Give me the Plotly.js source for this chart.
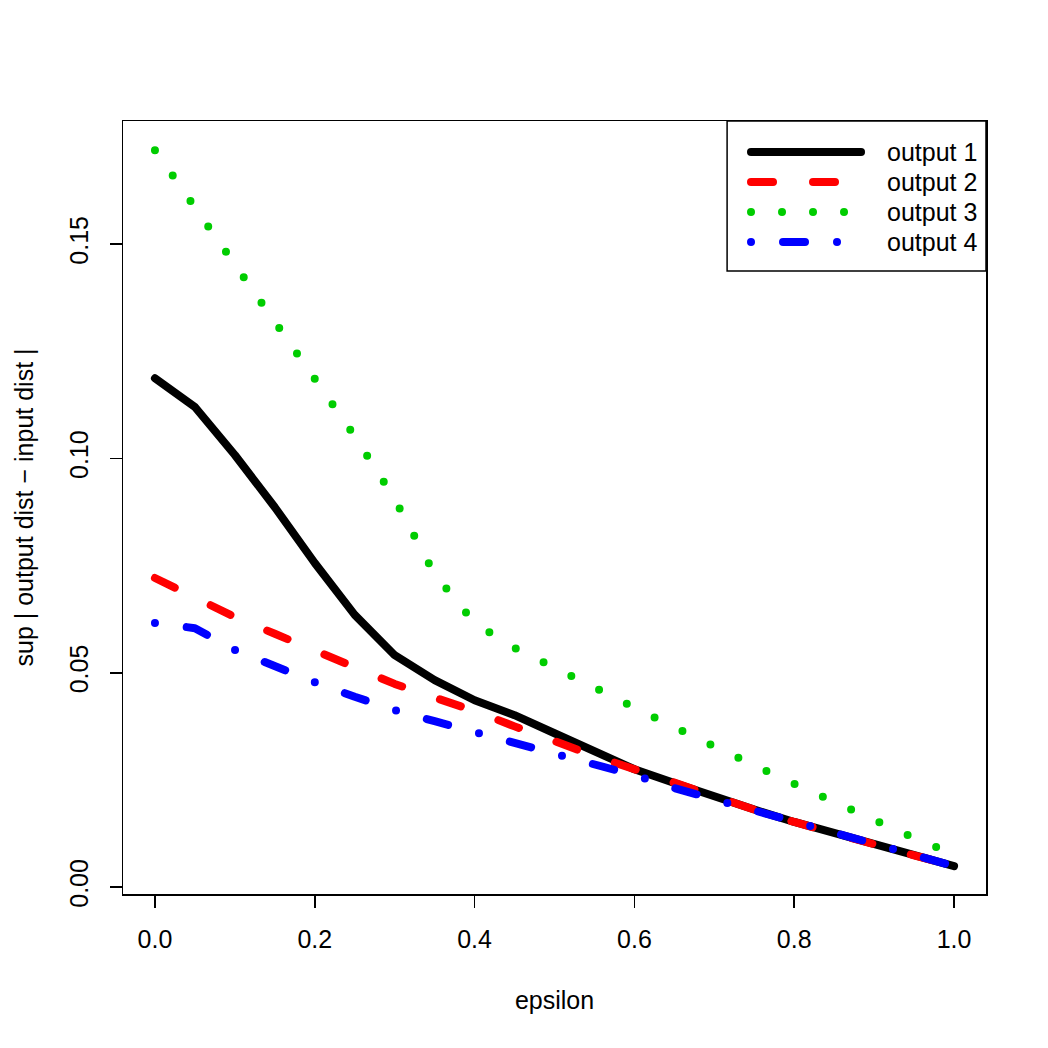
<!DOCTYPE html>
<html>
<head>
<meta charset="utf-8">
<script src="https://cdn.plot.ly/plotly-3.0.1.min.js"></script>
<style>
  html, body { margin: 0; padding: 0; background: #ffffff; }
  #chart { width: 1048px; height: 1048px; }
  /* round caps so the dotted and dashed strokes end in rounded tips */
  .scatterlayer .js-line { stroke-linecap: round; stroke-linejoin: round; }
  .shapelayer path { stroke-linecap: round; }
</style>
</head>
<body>
<div id="chart"></div>
<script>
// epsilon grid
const epsilon = [0.00, 0.05, 0.10, 0.15, 0.20, 0.25, 0.30, 0.35, 0.40, 0.45, 0.50,
                 0.55, 0.60, 0.65, 0.70, 0.75, 0.80, 0.85, 0.90, 0.95, 1.00];

// sup |output dist - input dist| for each output
const output1 = [0.1187, 0.1120, 0.1008, 0.0886, 0.0756, 0.0635, 0.0541, 0.0483, 0.0436, 0.0401, 0.0359,
                 0.0316, 0.0275, 0.0243, 0.0210, 0.0181, 0.0152, 0.0126, 0.0101, 0.0075, 0.0049];
const output2 = [0.0721, 0.0675, 0.0630, 0.0591, 0.0553, 0.0514, 0.0474, 0.0442, 0.0411, 0.0375, 0.0338,
                 0.0306, 0.0275, 0.0243, 0.0211, 0.0181, 0.0152, 0.0125, 0.0100, 0.0074, 0.0049];
const output3 = [0.1719, 0.1586, 0.1453, 0.1320, 0.1187, 0.1052, 0.0905, 0.0730, 0.0616, 0.0558, 0.0512,
                 0.0463, 0.0419, 0.0373, 0.0327, 0.0284, 0.0241, 0.0198, 0.0158, 0.0115, 0.0076];
const output4 = [0.0616, 0.0604, 0.0553, 0.0513, 0.0478, 0.0444, 0.0413, 0.0387, 0.0362, 0.0338, 0.0315,
                 0.0287, 0.0261, 0.0231, 0.0205, 0.0180, 0.0152, 0.0125, 0.0100, 0.0074, 0.0049];

const seriesNames = ['output 1', 'output 2', 'output 3', 'output 4'];
const seriesColors = ['#000000', '#ff0000', '#00cd00', '#0000ff'];
const seriesDashes = ['solid', '22px,40px', '0px,31px', '0px,32px,22px,32px'];
const seriesValues = [output1, output2, output3, output4];

const xTicks = [0, 0.2, 0.4, 0.6, 0.8, 1.0];
const xTickText = ['0.0', '0.2', '0.4', '0.6', '0.8', '1.0'];
const yTicks = [0, 0.05, 0.10, 0.15];
const yTickText = ['0.00', '0.05', '0.10', '0.15'];

const lineWidth = 8;
const font = { family: '"Liberation Sans", Arial, Helvetica, sans-serif', size: 25, color: '#000000' };

const traces = seriesValues.map((vals, i) => ({
  type: 'scatter',
  mode: 'lines',
  x: epsilon,
  y: vals,
  name: seriesNames[i],
  line: { color: seriesColors[i], width: lineWidth, dash: seriesDashes[i] },
  hoverinfo: 'skip',
  showlegend: false
}));

// boxed key in the top-right corner of the plotting region
const key = { x0: 0.700, x1: 1.0, y0: 0.806, y1: 1.0, top: 0.9599, step: 0.0388,
              lineStart: 0.7277, lineEnd: 0.8552, textX: 0.8830 };
const shapes = [{
  type: 'rect', xref: 'x domain', yref: 'y domain',
  x0: key.x0, x1: key.x1, y0: key.y0, y1: key.y1,
  line: { color: '#000000', width: 1.5 }, fillcolor: '#ffffff', layer: 'above'
}];
const annotations = [];
seriesNames.forEach((name, i) => {
  const yy = key.top - i * key.step;
  shapes.push({
    type: 'line', xref: 'x domain', yref: 'y domain',
    x0: key.lineStart, x1: key.lineEnd, y0: yy, y1: yy,
    line: { color: seriesColors[i], width: lineWidth, dash: seriesDashes[i] }, layer: 'above'
  });
  annotations.push({
    xref: 'x domain', yref: 'y domain', x: key.textX, y: yy,
    xanchor: 'left', yanchor: 'middle', showarrow: false,
    text: name, font: font
  });
});

const axisCommon = {
  showgrid: false, zeroline: false,
  showline: true, mirror: true, linecolor: '#000000', linewidth: 1.5,
  ticks: 'outside', ticklen: 12, tickwidth: 1.5, tickcolor: '#000000',
  tickfont: font
};

const layout = {
  width: 1048, height: 1048,
  margin: { l: 123, r: 62, t: 121, b: 154, pad: 0 },
  paper_bgcolor: '#ffffff', plot_bgcolor: '#ffffff',
  font: font,
  showlegend: false,
  xaxis: Object.assign({}, axisCommon, {
    range: [-0.04, 1.04],
    tickmode: 'array', tickvals: xTicks, ticktext: xTickText,
    ticklabelstandoff: 10,
    title: { text: 'epsilon', font: font, standoff: 40 }
  }),
  yaxis: Object.assign({}, axisCommon, {
    range: [-0.0016, 0.1787],
    tickmode: 'array', tickvals: yTicks, ticktext: yTickText,
    tickangle: -90,
    ticklabelstandoff: 12,
    title: { text: 'sup | output dist − input dist |', font: font, standoff: 24 }
  }),
  shapes: shapes,
  annotations: annotations
};

Plotly.newPlot('chart', traces, layout, { staticPlot: true, displayModeBar: false });
</script>
</body>
</html>
